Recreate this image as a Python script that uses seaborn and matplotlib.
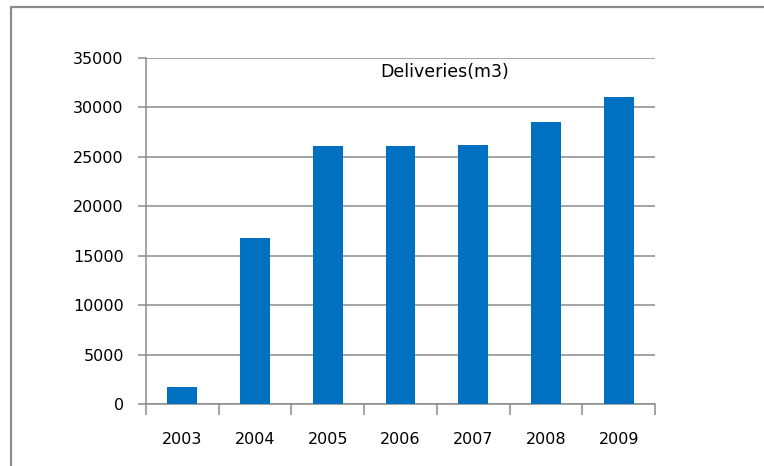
import numpy as np
import pandas as pd
import matplotlib
matplotlib.use("Agg")
import matplotlib.pyplot as plt
import seaborn as sns
from matplotlib.lines import Line2D

# Chart data
years = ['2003', '2004', '2005', '2006', '2007', '2008', '2009']
deliveries = [1700, 16800, 26050, 26050, 26200, 28500, 31100]
y_ticks = [0, 5000, 10000, 15000, 20000, 25000, 30000, 35000]
title_text = 'Deliveries(m3)'

df = pd.DataFrame({'year': years, 'deliveries': deliveries})

sns.set_style('white')
plt.rcParams['font.family'] = ['DejaVu Sans']
plt.rcParams['text.color'] = 'black'
plt.rcParams['xtick.color'] = 'black'
plt.rcParams['ytick.color'] = 'black'

fig = plt.figure(figsize=(7.64, 4.66), dpi=100)
ax = fig.add_axes([146 / 764, 1 - 404 / 466, 509 / 764, 346 / 466])

sns.barplot(data=df, x='year', y='deliveries', color='#0070C0', width=0.41,
            saturation=1, edgecolor='none', ax=ax, zorder=3)

ax.set_xlim(-0.5, 6.5)
ax.set_ylim(0, 35000)
ax.set_yticks(y_ticks)
ax.set_yticklabels([str(v) for v in y_ticks])
ax.yaxis.grid(True, color='#8c8c8c', linewidth=1.1, zorder=0)
ax.set_axisbelow(True)

# category boundaries as major ticks, labels on minor ticks
ax.set_xticks(np.arange(-0.5, 7, 1))
ax.set_xticklabels([])
ax.set_xticks(np.arange(len(years)), minor=True)
ax.set_xticklabels(years, minor=True)
ax.tick_params(axis='x', which='major', bottom=True, length=8, width=1.1,
               color='#8c8c8c', direction='out')
ax.tick_params(axis='x', which='minor', bottom=True, length=0, pad=20,
               labelsize=11.5, labelcolor='black')
ax.tick_params(axis='y', left=True, length=6, width=1.1, color='#8c8c8c',
               direction='out', pad=10, labelsize=11.5, labelcolor='black')
ax.set_xlabel('')
ax.set_ylabel('')

for side in ['top', 'right']:
    ax.spines[side].set_visible(False)
for side in ['left', 'bottom']:
    ax.spines[side].set_color('#8c8c8c')
    ax.spines[side].set_linewidth(1.1)

ax.text(0.587, 0.96, title_text, transform=ax.transAxes, ha='center', va='center',
        fontsize=12.5, color='black')

# outer chart border (only top and left visible)
fig.add_artist(Line2D([11 / 764, 1], [1 - 7 / 466, 1 - 7 / 466], color='#8c8c8c',
                      linewidth=1.6, transform=fig.transFigure))
fig.add_artist(Line2D([11 / 764, 11 / 764], [0, 1 - 7 / 466], color='#8c8c8c',
                      linewidth=1.6, transform=fig.transFigure))

fig.savefig('out.png', dpi=100)
